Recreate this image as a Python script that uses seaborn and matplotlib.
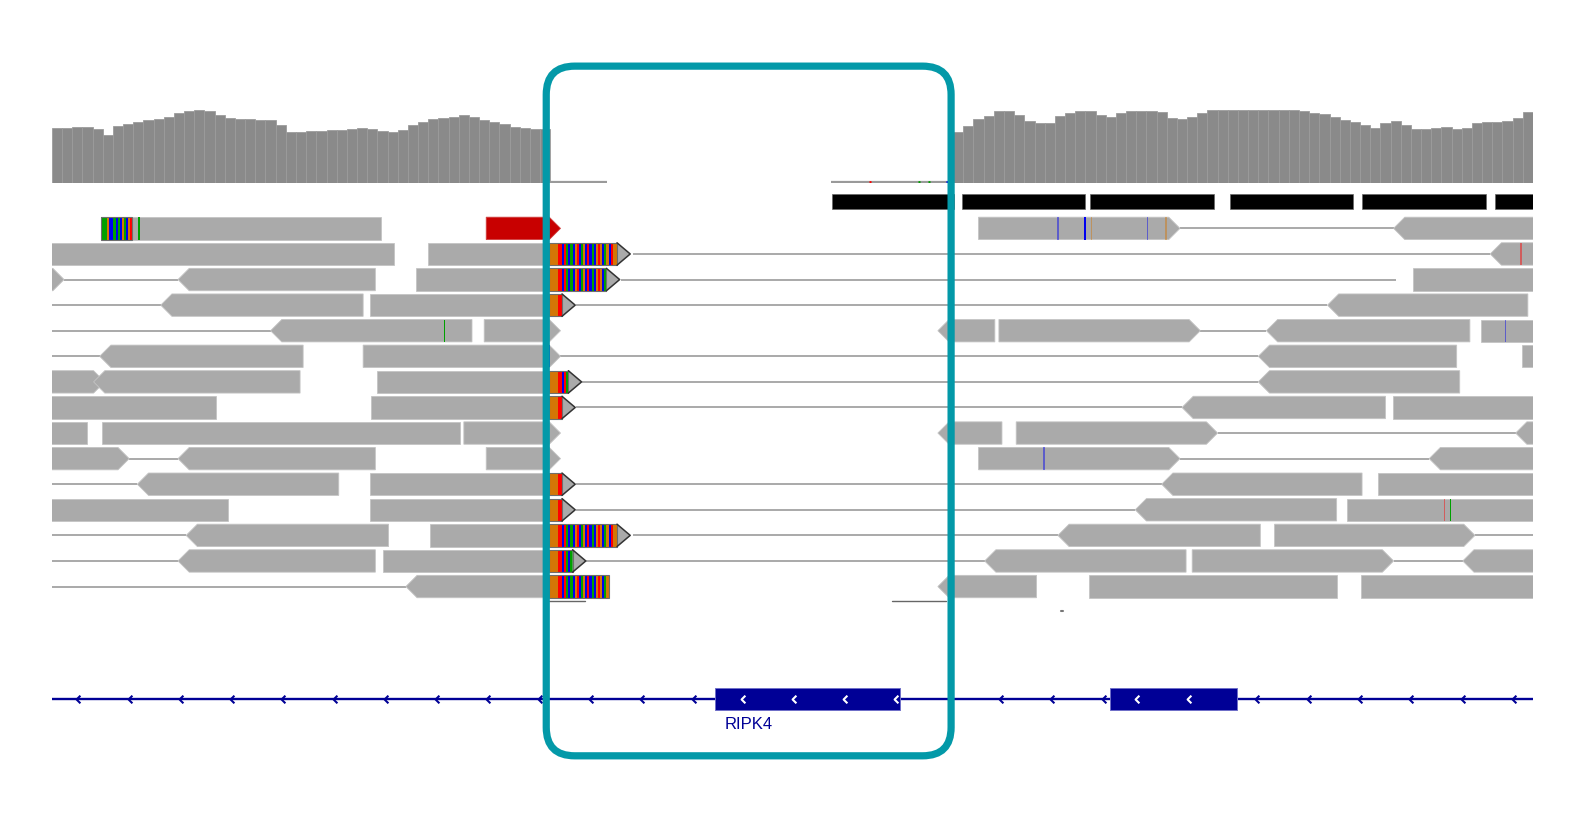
import numpy as np
import pandas as pd
import matplotlib
matplotlib.use("Agg")
import matplotlib.pyplot as plt
from matplotlib.patches import Polygon, Rectangle, FancyBboxPatch
from matplotlib.path import Path
import seaborn as sns

sns.set_theme(style="white")
plt.rcParams['font.family'] = ['Liberation Sans', 'DejaVu Sans']

# ---------------- data ----------------
# coverage (depth per 10-unit bin)
COV_BIN = 10
COV_LEFT_START = 51
COV_LEFT = [54, 54, 55, 55, 53, 47, 56, 58, 60, 62, 63, 65, 69, 71, 72, 71, 67, 64,
            63, 63, 62, 62, 57, 50, 50, 51, 51, 52, 52, 53, 54, 53, 51, 50, 52, 57,
            60, 63, 64, 65, 67, 65, 62, 60, 58, 55, 54, 53, 53]
COV_RIGHT_START = 937
COV_RIGHT = [50, 56, 63, 66, 71, 71, 67, 61, 59, 59, 66, 69, 71, 71, 67, 65, 69, 71,
             71, 71, 70, 64, 63, 65, 69, 72, 72, 72, 72, 72, 72, 72, 72, 72, 71, 69,
             68, 65, 62, 60, 57, 54, 59, 61, 57, 53, 53, 54, 55, 53, 54, 59, 60, 60,
             61, 64, 70]
LOW_COV = [(540, 597), (817, 932)]
LOW_COV_SNV = [(855, 'T'), (903, 'A'), (913, 'A'), (931, 'C')]

# feature track blocks
FEAT_START = [818, 946, 1072, 1209, 1339, 1470]
FEAT_END = [938, 1067, 1193, 1330, 1461, 1520]

# reads: (row, start, end, shape)  '>' forward, '<' reverse, '|' no arrow
READS = [
    (0, 99, 375, '|'), (0, 962, 1160, '>'), (0, 1370, 1520, '<'),
    (1, 40, 387, '|'), (1, 421, 540, '|'), (1, 1465, 1520, '<'),
    (2, 40, 63, '>'), (2, 175, 369, '<'), (2, 409, 540, '|'), (2, 1389, 1520, '|'),
    (3, 158, 357, '<'), (3, 364, 540, '|'), (3, 1305, 1502, '<'),
    (4, 266, 464, '<'), (4, 476, 551, '>'), (4, 922, 978, '<'), (4, 982, 1180, '>'),
    (4, 1245, 1445, '<'), (4, 1456, 1520, '|'),
    (5, 98, 298, '<'), (5, 357, 551, '>'), (5, 1237, 1432, '<'), (5, 1496, 1520, '|'),
    (6, 40, 103, '>'), (6, 92, 295, '<'), (6, 371, 540, '|'), (6, 1237, 1435, '<'),
    (7, 40, 212, '|'), (7, 365, 540, '|'), (7, 1162, 1362, '<'), (7, 1369, 1520, '|'),
    (8, 40, 86, '|'), (8, 100, 452, '|'), (8, 456, 551, '>'), (8, 922, 985, '<'),
    (8, 999, 1197, '>'), (8, 1490, 1520, '<'),
    (9, 40, 127, '>'), (9, 175, 369, '<'), (9, 478, 551, '>'), (9, 962, 1160, '>'),
    (9, 1405, 1520, '<'),
    (10, 135, 333, '<'), (10, 364, 540, '|'), (10, 1142, 1339, '<'), (10, 1355, 1520, '|'),
    (11, 40, 224, '|'), (11, 364, 540, '|'), (11, 1116, 1314, '<'), (11, 1324, 1520, '|'),
    (12, 183, 382, '<'), (12, 423, 540, '|'), (12, 1040, 1239, '<'), (12, 1253, 1450, '>'),
    (13, 175, 369, '<'), (13, 377, 540, '|'), (13, 968, 1166, '<'), (13, 1172, 1370, '>'),
    (13, 1438, 1520, '<'),
    (14, 399, 540, '<'), (14, 922, 1019, '<'), (14, 1071, 1314, '|'), (14, 1338, 1520, '|'),
]
# discordant (red) read
RED_READS = [(0, 478, 551, '>')]

# gapped / spliced connections: (row, from, to)
LINKS = [
    (0, 1160, 1370), (1, 622, 1465), (2, 63, 175), (2, 610, 1372),
    (3, 40, 158), (3, 566, 1305), (4, 40, 266), (4, 1180, 1245),
    (5, 40, 98), (5, 551, 1237), (6, 572, 1237), (7, 566, 1162),
    (8, 1197, 1490), (9, 127, 175), (9, 1160, 1405), (10, 40, 135),
    (10, 566, 1142), (11, 566, 1116), (12, 40, 183), (12, 622, 1040),
    (12, 1450, 1520), (13, 40, 175), (13, 576, 968), (13, 1370, 1438),
    (14, 40, 399),
]
EXTRA_LINKS = [(14.55, 540, 575), (14.55, 877, 930)]

# soft-clipped sequence at the breakpoint
BREAKPOINT = 540
CLIP_SEQ = "GGGGTTCTACACGTCAGCTCACGTGCAGCTGG"
# (row, number of clipped bases shown, arrow tip)
CLIPS = [(1, 32, True), (2, 27, True), (3, 6, True), (6, 9, True), (7, 6, True),
         (10, 6, True), (11, 6, True), (12, 32, True), (13, 11, True), (14, 28, False)]
# left clipped block on row 0
LEFT_CLIP = (0, 99, "AAAGCCACACGACGT")

# mismatches: (row, position, base, faded)
MISMATCH = [
    (0, 137, 'A', False), (0, 1040, 'C', True), (0, 1067, 'C', False),
    (0, 1073, 'G', True), (0, 1128, 'C', True), (0, 1146, 'G', True),
    (1, 1495, 'T', True), (4, 437, 'A', False), (4, 1480, 'C', True),
    (5, 540, 'C', False), (9, 1026, 'C', True), (11, 1420, 'T', True),
    (11, 1426, 'A', False),
]

# gene model (RIPK4, minus strand)
GENE_NAME = "RIPK4"
GENE_START, GENE_END = 40, 1520
EXON_START = [703, 1091]
EXON_END = [885, 1216]

# ---------------- style ----------------
W, H = 1595, 820                 # output pixels
VW = 1568.0                      # track coordinate frame width
VH = H * VW / W                  # track coordinate frame height
X0, X1 = 51, 1507
ROW0_Y, ROW_STEP, READ_H, TIP = 225.5, 25.15, 22, 11
BASE_W = 2.08
READ_GRAY = '#aaaaaa'
BASE_COLORS = {'A': '#00a000', 'C': '#0000f0', 'G': '#d47606', 'T': '#ff0000'}
GENE_COL = '#000096'
TEAL = '#0399a8'

fig = plt.figure(figsize=(W / 100, H / 100), dpi=100)
fig.patch.set_facecolor('white')

# coverage axes
cov_top, cov_bot = 101, 181
axc = fig.add_axes([X0 / VW, 1 - cov_bot / VH, (X1 - X0) / VW, (cov_bot - cov_top) / VH])
for start, vals in ((COV_LEFT_START, COV_LEFT), (COV_RIGHT_START, COV_RIGHT)):
    edges = [start + COV_BIN * i for i in range(len(vals) + 1)]
    df = pd.DataFrame({'pos': [e + COV_BIN / 2 for e in edges[:-1]], 'depth': vals})
    sns.histplot(data=df, x='pos', weights='depth', bins=edges, ax=axc, color='#8a8a8a',
                 edgecolor='#9c9c9c', linewidth=0.6, alpha=1.0, stat='count')
for a, b in LOW_COV:
    axc.plot([a, b], [1, 1], color='#9a9a9a', lw=1.6, solid_capstyle='butt')
for x, base in LOW_COV_SNV:
    axc.plot([x - 1, x + 1], [1, 1], color=BASE_COLORS[base], lw=2.0, solid_capstyle='butt')
axc.set_xlim(X0, X1)
axc.set_ylim(0, cov_bot - cov_top)
axc.axis('off')

# main axes in track coordinates
ax = fig.add_axes([X0 / VW, 0, (X1 - X0) / VW, 1])
ax.set_xlim(X0, X1)
ax.set_ylim(VH, 0)
ax.axis('off')
ax.patch.set_alpha(0)


def row_y(r):
    return ROW0_Y + r * ROW_STEP


def read_poly(s, e, shape, y):
    t, b = y - READ_H / 2, y + READ_H / 2
    if shape == '>':
        pts = [(s, t), (e - TIP, t), (e, y), (e - TIP, b), (s, b)]
    elif shape == '<':
        pts = [(s + TIP, t), (e, t), (e, b), (s + TIP, b), (s, y)]
    else:
        pts = [(s, t), (e, t), (e, b), (s, b)]
    return pts


# feature blocks
for s, e in zip(FEAT_START, FEAT_END):
    ax.add_patch(Rectangle((s, 192), e - s, 14, fc='black', ec='#666666', lw=0.5))

# links
for r, a, b in LINKS:
    ax.plot([a, b], [row_y(r), row_y(r)], color='#a3a3a3', lw=1.3, zorder=1,
            solid_capstyle='butt')
for r, a, b in EXTRA_LINKS:
    ax.plot([a, b], [row_y(r), row_y(r)], color='#666666', lw=1.0, zorder=1)
ax.plot([1043, 1045], [602, 602], color='#777777', lw=1.5)

# reads
for r, s, e, shape in READS:
    ax.add_patch(Polygon(read_poly(s, e, shape, row_y(r)), closed=True, fc=READ_GRAY,
                         ec='#c4c4c4', lw=0.6, zorder=2))
for r, s, e, shape in RED_READS:
    ax.add_patch(Polygon(read_poly(s, e, shape, row_y(r)), closed=True, fc='#c80000',
                         ec='#d04040', lw=0.6, zorder=2))

# mismatches
for r, x, base, faded in MISMATCH:
    y = row_y(r)
    ax.add_patch(Rectangle((x - 0.9, y - READ_H / 2), 1.8, READ_H, fc=BASE_COLORS[base],
                           ec='none', alpha=0.45 if faded else 1.0, zorder=3))


def draw_bases(x0, seq, y):
    for i, base in enumerate(seq):
        ax.add_patch(Rectangle((x0 + i * BASE_W, y - READ_H / 2), BASE_W, READ_H,
                               fc=BASE_COLORS[base], ec='none', zorder=3))
    ax.add_patch(Rectangle((x0, y - READ_H / 2), len(seq) * BASE_W, READ_H,
                           fc='none', ec='#6e6e6e', lw=0.8, zorder=4))


# soft clips
for r, n, tip in CLIPS:
    y = row_y(r)
    draw_bases(BREAKPOINT, CLIP_SEQ[:n], y)
    end = BREAKPOINT + n * BASE_W
    if tip:
        t, b = y - READ_H / 2, y + READ_H / 2
        ax.add_patch(Polygon([(end, t), (end + 13, y), (end, b)], closed=True,
                             fc=READ_GRAY, ec='none', zorder=3))
        ax.plot([end, end + 13, end], [t, y, b], color='#333333', lw=1.1, zorder=4)

r, x0, seq = LEFT_CLIP
draw_bases(x0, seq, row_y(r))

# gene track
gy = 688
ax.plot([GENE_START, GENE_END], [gy, gy], color=GENE_COL, lw=1.7, zorder=2)
chev = Path([(0.35, 0.7), (-0.35, 0.0), (0.35, -0.7)],
            [Path.MOVETO, Path.LINETO, Path.LINETO])


def in_exon(x):
    return any(s - 4 <= x <= e + 4 for s, e in zip(EXON_START, EXON_END))


intron_x = [x for x in np.arange(77, GENE_END, 50.4) if not in_exon(x)]
ax.plot(intron_x, [gy] * len(intron_x), ls='none', marker=chev, markersize=5.5,
        markeredgewidth=1.5, markeredgecolor=GENE_COL, markerfacecolor='none', zorder=3)
for s, e in zip(EXON_START, EXON_END):
    ax.add_patch(Rectangle((s, gy - 11), e - s, 22, fc=GENE_COL, ec='#6f6fc8', lw=0.7, zorder=3))
    ex = list(np.arange(s + 27, e, 50.4))
    ax.plot(ex, [gy] * len(ex), ls='none', marker=chev, markersize=5.5,
            markeredgewidth=1.5, markeredgecolor='white', markerfacecolor='none', zorder=4)
ax.text(EXON_START[0] + 9, 712, GENE_NAME, color=GENE_COL, fontsize=12,
        ha='left', va='center', zorder=4)

# highlight box
ax.add_patch(FancyBboxPatch((537, 66), 935 - 537, 744 - 66,
                            boxstyle="round,pad=0,rounding_size=28",
                            fc='none', ec=TEAL, lw=5.2, zorder=10))

fig.savefig("out.png", dpi=100, facecolor='white')
